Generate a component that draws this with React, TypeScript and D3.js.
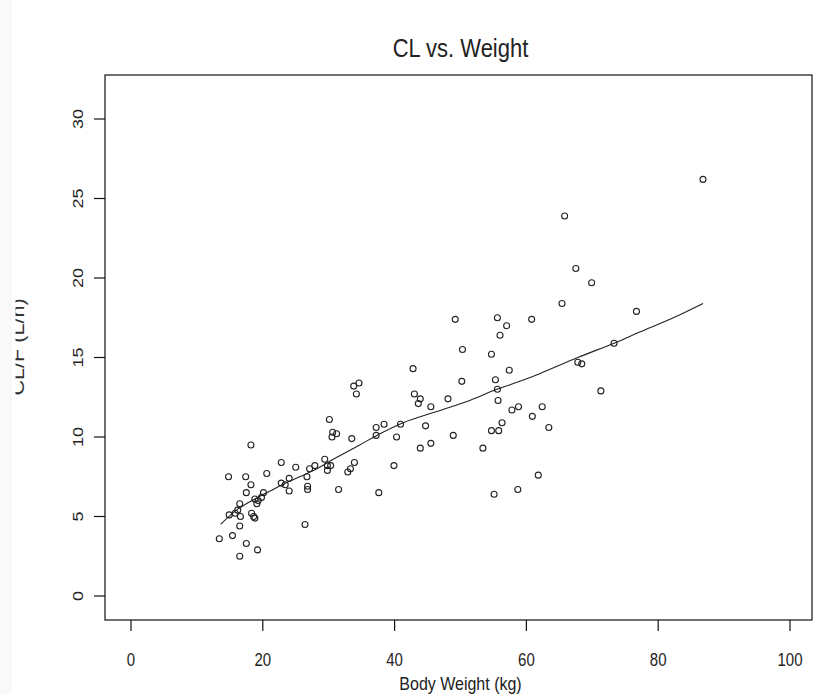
import React from "react";
import * as d3 from "d3";

const xTicks = [0, 20, 40, 60, 80, 100];
const yTicks = [0, 5, 10, 15, 20, 25, 30];

const bodyWeight = [
  30.1, 30.6, 31.2, 30.5, 37.2, 37.2, 38.4, 33.5, 18.2, 22.8, 25.0, 33.9, 33.3, 32.9, 29.4, 29.8, 30.3, 29.8,
  27.1, 27.9, 20.6, 14.8, 17.4, 24.0, 26.7, 18.2, 22.8, 23.4, 24.0, 26.8, 26.8, 31.5, 37.6, 17.5, 20.1, 19.8,
  18.8, 19.3, 19.1, 16.5, 16.2, 15.8, 14.9, 16.6, 18.3, 18.6, 18.8, 16.5, 26.4, 13.4, 15.4, 17.5, 19.2, 16.5,
  49.2, 57.0, 56.0, 55.6, 60.8, 50.3, 54.7, 42.8, 57.4, 50.2, 55.3, 55.6, 43.0, 43.9, 43.6, 48.1, 55.7, 45.5,
  57.8, 58.8, 62.4, 60.9, 63.4, 40.9, 44.7, 56.3, 55.8, 54.7, 40.3, 48.9, 45.5, 43.9, 53.4, 39.9, 61.8, 55.1,
  58.7, 33.8, 34.6, 34.2, 65.4, 67.5, 69.9, 86.8, 65.8, 76.7, 67.8, 68.4, 73.3, 71.3,
];
const clF = [
  11.1, 10.3, 10.2, 10.0, 10.6, 10.1, 10.8, 9.9, 9.5, 8.4, 8.1, 8.4, 8.0, 7.8, 8.6, 8.2, 8.2, 7.9,
  8.0, 8.2, 7.7, 7.5, 7.5, 7.4, 7.5, 7.0, 7.1, 7.0, 6.6, 6.9, 6.7, 6.7, 6.5, 6.5, 6.5, 6.2,
  6.1, 6.0, 5.8, 5.8, 5.4, 5.2, 5.1, 5.0, 5.2, 5.0, 4.9, 4.4, 4.5, 3.6, 3.8, 3.3, 2.9, 2.5,
  17.4, 17.0, 16.4, 17.5, 17.4, 15.5, 15.2, 14.3, 14.2, 13.5, 13.6, 13.0, 12.7, 12.4, 12.1, 12.4, 12.3, 11.9,
  11.7, 11.9, 11.9, 11.3, 10.6, 10.8, 10.7, 10.9, 10.4, 10.4, 10.0, 10.1, 9.6, 9.3, 9.3, 8.2, 7.6, 6.4,
  6.7, 13.2, 13.4, 12.7, 18.4, 20.6, 19.7, 26.2, 23.9, 17.9, 14.7, 14.6, 15.9, 12.9,
];

const fitWeight = [13.6, 16.0, 18.8, 21.1, 22.9, 25.6, 28.2, 30.7, 34.7, 37.3, 41.3, 46.4, 51.4, 55.5, 59.0, 62.1, 67.8, 73.3, 77.2, 82.3, 86.8];
const fitCl = [4.5, 5.4, 6.1, 6.6, 7.0, 7.5, 8.0, 8.6, 9.5, 10.1, 10.9, 11.6, 12.3, 13.0, 13.5, 14.0, 15.0, 15.9, 16.6, 17.5, 18.4];

const title = "CL vs. Weight";
const xLabel = "Body Weight (kg)";
const yLabel = "CL/F (L/h)";

const W = 837;
const H = 694;
const box = { l: 105, t: 75, r: 812, b: 620 };
const STRETCH = 1.2;
const FONT = "'Liberation Sans', Arial, sans-serif";
const INK = "#222";

export default function App() {
  const x = d3.scaleLinear().domain([0, 100]).range([131, 790]);
  const y = d3.scaleLinear().domain([0, 30]).range([596, 119]);
  const fitLine = d3
    .line<number>()
    .x((d) => x(d))
    .y((_, i) => y(fitCl[i]))
    .curve(d3.curveCatmullRom.alpha(0.5));

  return (
    <svg
      width={W}
      height={H}
      style={{ position: "absolute", left: 0, top: 0, background: "#fff" }}
      fontFamily={FONT}
    >
      <defs>
        <clipPath id="ylabclip">
          <rect x={15.5} y={0} width={100} height={H} />
        </clipPath>
      </defs>
      <rect x={0} y={0} width={W} height={H} fill="#fff" />
      <rect x={0} y={0} width={12} height={H} fill="#f9f9f9" />

      <g transform={`translate(${(box.l + box.r) / 2 + 2},57) scale(1,${STRETCH})`}>
        <text textAnchor="middle" fontSize={22} fill={INK}>
          {title}
        </text>
      </g>

      <rect
        x={box.l}
        y={box.t}
        width={box.r - box.l}
        height={box.b - box.t}
        fill="none"
        stroke="#111"
        strokeWidth={1.2}
      />

      {xTicks.map((t) => (
        <g key={"xt" + t}>
          <line x1={x(t)} x2={x(t)} y1={box.b} y2={box.b + 11} stroke="#111" strokeWidth={1.2} />
          <g transform={`translate(${x(t)},666) scale(1,${STRETCH})`}>
            <text textAnchor="middle" fontSize={15} fill={INK}>
              {t}
            </text>
          </g>
        </g>
      ))}

      {yTicks.map((t) => (
        <g key={"yt" + t}>
          <line x1={box.l - 11} x2={box.l} y1={y(t)} y2={y(t)} stroke="#111" strokeWidth={1.2} />
          <g transform={`translate(83,${y(t)}) scale(1,${STRETCH}) rotate(-90)`}>
            <text textAnchor="middle" fontSize={15} fill={INK}>
              {t}
            </text>
          </g>
        </g>
      ))}

      <g transform={`translate(${(box.l + box.r) / 2 + 2},690) scale(1,${STRETCH})`}>
        <text textAnchor="middle" fontSize={16} fill={INK}>
          {xLabel}
        </text>
      </g>

      <g clipPath="url(#ylabclip)">
        <g transform={`translate(24,347) scale(1,${STRETCH}) rotate(-90)`}>
          <text textAnchor="middle" fontSize={18} fill="#333">
            {yLabel}
          </text>
        </g>
      </g>

      <path d={fitLine(fitWeight) || ""} fill="none" stroke="#222" strokeWidth={1.1} />

      {bodyWeight.map((w, i) => (
        <circle key={"p" + i} cx={x(w)} cy={y(clF[i])} r={3} fill="none" stroke="#222" strokeWidth={1.1} />
      ))}
    </svg>
  );
}
